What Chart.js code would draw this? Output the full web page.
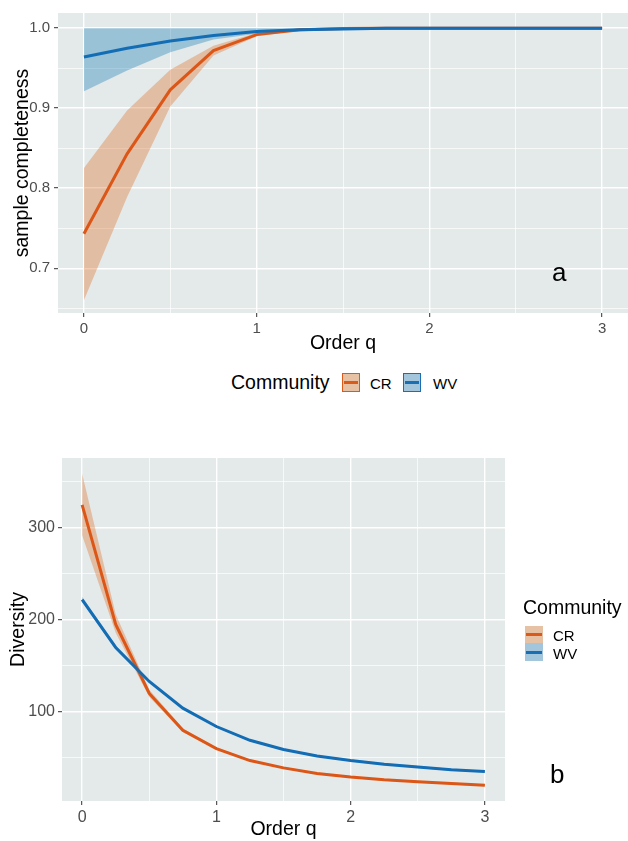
<!DOCTYPE html>
<html>
<head>
<meta charset="utf-8">
<script src="https://cdn.jsdelivr.net/npm/chart.js@4.4.0/dist/chart.umd.min.js"></script>
<style>
  body { margin: 0; background: #fff; font-family: "Liberation Sans", Arial, sans-serif; }
  #wrap { position: relative; width: 628px; height: 841px; overflow: hidden; }
  canvas { position: absolute; left: 0; }
  .lbl { position: absolute; color: #000; white-space: nowrap; line-height: 1; transform: translateY(-50%); }
  .key { position: absolute; box-sizing: border-box; }
  .key i { position: absolute; left: 1px; right: 1px; top: 50%; height: 3px; margin-top: -1.5px; }
</style>
</head>
<body>
<div id="wrap">
  <canvas id="chartA" width="628" height="360" style="top:0"></canvas>
  <canvas id="chartB" width="628" height="401" style="top:440px"></canvas>

  <div class="lbl" style="left:552px;top:272px;font-size:26px">a</div>
  <div class="lbl" style="left:550px;top:774px;font-size:26px">b</div>

  <!-- legend a -->
  <div class="lbl" style="left:231px;top:383px;font-size:19.5px">Community</div>
  <div class="key" style="left:342px;top:373px;width:18px;height:19px;border:1.5px solid #d95a1a;background:#e6c1a4"><i style="background:#d95a1a"></i></div>
  <div class="lbl" style="left:370px;top:383px;font-size:15px">CR</div>
  <div class="key" style="left:403px;top:373px;width:18px;height:19px;border:1.5px solid #1a6fb3;background:#a3c6dc"><i style="background:#1a6fb3"></i></div>
  <div class="lbl" style="left:433px;top:383px;font-size:15px">WV</div>

  <!-- legend b -->
  <div class="lbl" style="left:523px;top:608px;font-size:19.5px">Community</div>
  <div class="key" style="left:525px;top:626px;width:18px;height:17px;background:#e6c1a4"><i style="background:#d95a1a"></i></div>
  <div class="lbl" style="left:553px;top:635px;font-size:15px">CR</div>
  <div class="key" style="left:525px;top:643px;width:18px;height:18px;background:#a3c6dc"><i style="background:#1a6fb3"></i></div>
  <div class="lbl" style="left:553px;top:653px;font-size:15px">WV</div>
</div>

<script>
const q = [0, 0.25, 0.5, 0.75, 1, 1.25, 1.5, 1.75, 2, 2.25, 2.5, 2.75, 3];

// panel a: sample completeness
const crCov   = [0.743, 0.843, 0.923, 0.972, 0.992, 0.998, 0.9995, 1, 1, 1, 1, 1, 1];
const crCovLo = [0.660, 0.789, 0.902, 0.966, 0.990, 0.997, 0.999, 1, 1, 1, 1, 1, 1];
const crCovHi = [0.825, 0.897, 0.948, 0.978, 0.994, 0.999, 1, 1, 1, 1, 1, 1, 1];
const wvCov   = [0.964, 0.975, 0.984, 0.991, 0.996, 0.998, 0.999, 1, 1, 1, 1, 1, 1];
const wvCovLo = [0.921, 0.947, 0.970, 0.986, 0.993, 0.997, 0.999, 1, 1, 1, 1, 1, 1];
const wvCovHi = [1, 1, 1, 1, 1, 1, 1, 1, 1, 1, 1, 1, 1];

// panel b: diversity
const crDiv   = [325, 195, 120, 80, 60, 47, 39, 33, 29, 26, 24, 22, 20];
const crDivLo = [292, 186, 116, 78, 59, 46, 38, 32, 28, 25, 23, 21, 19];
const crDivHi = [359, 206, 124, 82, 61, 48, 40, 34, 30, 27, 25, 23, 21];
const wvDiv   = [222, 170, 133, 104, 84, 69, 59, 52, 47, 43, 40, 37, 35];
const wvDivLo = [219, 168, 132, 103, 83, 68, 58, 51, 46, 42, 39, 36, 34];
const wvDivHi = [225, 172, 134, 105, 85, 70, 60, 53, 48, 44, 41, 38, 36];

const xMajor = [0, 1, 2, 3];
const xMinor = [0.5, 1.5, 2.5];
const yMajorA = [0.7, 0.8, 0.9, 1.0];
const yMinorA = [0.65, 0.75, 0.85, 0.95];
const yMajorB = [100, 200, 300];
const yMinorB = [50, 150, 250, 350];

const crColor = '#dc5717', crBand = 'rgba(220,100,20,0.33)';
const wvColor = '#136db5', wvBand = 'rgba(0,114,178,0.33)';
const font = '"Liberation Sans", Arial, sans-serif';

const pts = arr => q.map((x, i) => ({x: x, y: arr[i]}));

const panelBg = {
  id: 'panelBg',
  beforeDraw(chart) {
    const {ctx, chartArea: a} = chart;
    ctx.save();
    ctx.fillStyle = '#e4e9e9';
    ctx.fillRect(a.left, a.top, a.right - a.left, a.bottom - a.top);
    ctx.restore();
  }
};

function axis(major, minor, o) {
  return {
    type: 'linear', min: o.min, max: o.max,
    afterBuildTicks: s => { s.ticks = major.concat(minor).sort((a, b) => a - b).map(v => ({value: v})); },
    afterFit: s => { if (s.isHorizontal()) s.height = o.size; else s.width = o.size; },
    border: {display: false},
    grid: {
      color: '#ffffff',
      lineWidth: c => major.includes(c.tick.value) ? 1.4 : 0.7,
      tickColor: c => major.includes(c.tick.value) ? '#333333' : 'rgba(0,0,0,0)',
      tickWidth: 1,
      tickLength: 4
    },
    ticks: {
      color: '#4d4d4d', font: {family: font, size: o.tickSize}, padding: o.pad,
      autoSkip: false, maxRotation: 0,
      callback: v => major.includes(v) ? o.fmt(v) : ''
    },
    title: {display: true, text: o.title, color: '#000', font: {family: font, size: 19.5}, padding: o.titlePad}
  };
}

function line(data, color) {
  return {data: pts(data), fill: false, borderColor: color, borderWidth: 3, pointRadius: 0, tension: 0};
}
// upper edge fills down to the lower edge right after it
function band(lo, hi, color) {
  return [
    {data: pts(hi), fill: '+1', backgroundColor: color, borderWidth: 0, pointRadius: 0},
    {data: pts(lo), fill: false, borderWidth: 0, pointRadius: 0}
  ];
}

new Chart(document.getElementById('chartA'), {
  type: 'line',
  data: {
    datasets: [line(wvCov, wvColor), line(crCov, crColor)]
      .concat(band(crCovLo, crCovHi, crBand), band(wvCovLo, wvCovHi, wvBand))
  },
  options: {
    responsive: false, animation: false,
    layout: {padding: {top: 13, right: 0, left: 0, bottom: 0}},
    plugins: {legend: {display: false}, tooltip: {enabled: false}},
    scales: {
      x: axis(xMajor, xMinor, {min: -0.15, max: 3.15, size: 47, tickSize: 15, pad: 3,
        fmt: v => String(v), title: 'Order q', titlePad: {top: 0, bottom: 5}}),
      y: axis(yMajorA, yMinorA, {min: 0.644, max: 1.019, size: 58, tickSize: 15, pad: 4,
        fmt: v => v.toFixed(1), title: 'sample completeness', titlePad: {top: 11, bottom: 0}})
    }
  },
  plugins: [panelBg]
});

new Chart(document.getElementById('chartB'), {
  type: 'line',
  data: {
    datasets: [line(wvDiv, wvColor), line(crDiv, crColor)]
      .concat(band(crDivLo, crDivHi, crBand), band(wvDivLo, wvDivHi, wvBand))
  },
  options: {
    responsive: false, animation: false,
    layout: {padding: {top: 18, right: 123, left: 0, bottom: 0}},
    plugins: {legend: {display: false}, tooltip: {enabled: false}},
    scales: {
      x: axis(xMajor, xMinor, {min: -0.15, max: 3.15, size: 40, tickSize: 16, pad: 3,
        fmt: v => String(v), title: 'Order q', titlePad: {top: 0, bottom: 0}}),
      y: axis(yMajorB, yMinorB, {min: 3, max: 376, size: 62, tickSize: 16, pad: 3,
        fmt: v => String(v), title: 'Diversity', titlePad: {top: 7, bottom: 0}})
    }
  },
  plugins: [panelBg]
});
</script>
</body>
</html>
